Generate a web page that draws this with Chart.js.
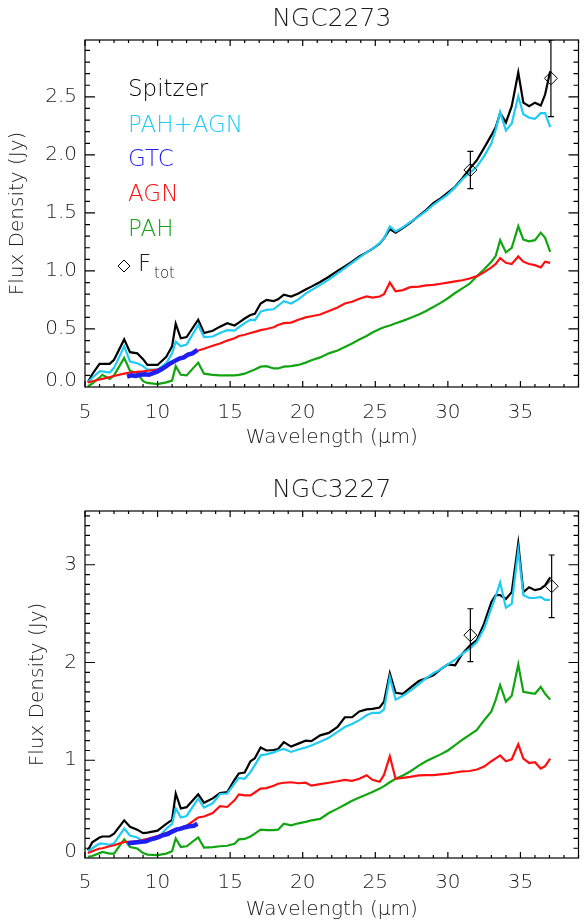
<!DOCTYPE html>
<html lang="en">
<head>
<meta charset="UTF-8">
<title>NGC2273 / NGC3227 - Spitzer spectra decomposition</title>
<script src="https://cdn.jsdelivr.net/npm/chart.js@4.4.0/dist/chart.umd.min.js"></script>
<style>
  html, body { margin: 0; padding: 0; background: #fff; }
  .panel { position: absolute; left: 0; width: 586px; height: 462px; }
</style>
</head>
<body>
<div class="panel" style="top:0"><canvas id="topChart" width="586" height="462"></canvas></div>
<div class="panel" style="top:462px"><canvas id="bottomChart" width="586" height="462"></canvas></div>

<script>
// ---- data ----
const waveGrid = [5.2, 5.5, 6.0, 6.2, 6.7, 7.0, 7.7, 8.1, 8.6, 9.0,
  9.3, 10.0, 10.6, 11.0, 11.25, 11.6, 12.0, 12.8, 13.2, 13.8,
  14.3, 14.8, 15.3, 15.6, 16.0, 16.4, 16.7, 17.1, 17.5, 18.0,
  18.3, 18.7, 19.2, 19.7, 20.2, 20.6, 21.2, 21.8, 22.4, 22.9,
  23.4, 23.9, 24.4, 24.8, 25.3, 25.6, 26.0, 26.4, 26.9, 27.4,
  28.0, 28.5, 29.0, 29.5, 30.0, 30.5, 31.0, 31.5, 32.0, 32.5,
  33.0, 33.3, 33.6, 34.0, 34.4, 34.85, 35.2, 35.6, 36.0, 36.4, 36.7, 37.05];

// NGC2273
const n2273Spitzer = [0.04, 0.11, 0.20, 0.20, 0.20, 0.235, 0.41, 0.30, 0.29, 0.24,
  0.19, 0.19, 0.26, 0.35, 0.545, 0.42, 0.43, 0.58, 0.465, 0.485,
  0.52, 0.55, 0.53, 0.555, 0.59, 0.62, 0.63, 0.72, 0.75, 0.74,
  0.755, 0.795, 0.78, 0.805, 0.84, 0.865, 0.905, 0.95, 1.00, 1.04,
  1.08, 1.125, 1.16, 1.19, 1.235, 1.28, 1.36, 1.33, 1.37, 1.415,
  1.475, 1.525, 1.585, 1.625, 1.675, 1.725, 1.80, 1.88, 1.955, 2.06,
  2.17, 2.24, 2.36, 2.28, 2.42, 2.71, 2.45, 2.42, 2.45, 2.425, 2.52, 2.72];
const n2273PahAgn = [0.04, 0.08, 0.135, 0.135, 0.125, 0.165, 0.35, 0.22, 0.205, 0.18,
  0.15, 0.15, 0.205, 0.29, 0.39, 0.35, 0.365, 0.535, 0.43, 0.435,
  0.465, 0.49, 0.485, 0.515, 0.55, 0.58, 0.575, 0.65, 0.665, 0.67,
  0.70, 0.74, 0.72, 0.755, 0.805, 0.835, 0.88, 0.925, 0.98, 1.025,
  1.07, 1.115, 1.16, 1.19, 1.24, 1.28, 1.385, 1.34, 1.375, 1.42,
  1.47, 1.515, 1.57, 1.615, 1.66, 1.72, 1.79, 1.845, 1.90, 1.99,
  2.10, 2.22, 2.37, 2.21, 2.27, 2.505, 2.35, 2.32, 2.31, 2.36, 2.36, 2.24];
const n2273Agn = [0.04, 0.05, 0.065, 0.07, 0.085, 0.095, 0.115, 0.125, 0.13, 0.135,
  0.14, 0.15, 0.18, 0.21, 0.225, 0.245, 0.27, 0.315, 0.33, 0.355,
  0.375, 0.40, 0.42, 0.44, 0.45, 0.465, 0.475, 0.49, 0.50, 0.515,
  0.535, 0.55, 0.555, 0.58, 0.60, 0.61, 0.625, 0.655, 0.685, 0.72,
  0.735, 0.76, 0.78, 0.77, 0.78, 0.80, 0.90, 0.825, 0.835, 0.86,
  0.865, 0.875, 0.88, 0.89, 0.90, 0.91, 0.92, 0.935, 0.955, 0.99,
  1.03, 1.06, 1.11, 1.07, 1.06, 1.125, 1.08, 1.06, 1.05, 1.03, 1.08, 1.07];
const n2273Pah = [0.005, 0.03, 0.08, 0.105, 0.07, 0.10, 0.25, 0.14, 0.12, 0.05,
  0.035, 0.025, 0.04, 0.055, 0.18, 0.105, 0.10, 0.21, 0.115, 0.105,
  0.10, 0.10, 0.10, 0.105, 0.115, 0.135, 0.15, 0.175, 0.18, 0.16,
  0.16, 0.175, 0.18, 0.19, 0.21, 0.23, 0.255, 0.29, 0.315, 0.345,
  0.375, 0.41, 0.44, 0.47, 0.50, 0.515, 0.53, 0.55, 0.57, 0.595,
  0.625, 0.655, 0.69, 0.725, 0.765, 0.81, 0.85, 0.89, 0.955, 1.015,
  1.08, 1.13, 1.265, 1.16, 1.20, 1.385, 1.27, 1.255, 1.265, 1.33, 1.285, 1.165];
const n2273GtcWave = [7.9, 8.2, 8.5, 8.8, 9.1, 9.4, 9.7, 10.0, 10.3, 10.6, 10.9, 11.2, 11.5, 11.8, 12.1, 12.4, 12.75];
const n2273GtcFlux = [0.09, 0.10, 0.095, 0.105, 0.11, 0.105, 0.12, 0.135, 0.155, 0.18, 0.205, 0.225, 0.245, 0.255, 0.28, 0.29, 0.32];
const n2273FtotWave = [31.55, 37.1];
const n2273Ftot = [1.87, 2.66];
const n2273FtotErr = [0.16, 0.33];

// NGC3227
const n3227Spitzer = [0.08, 0.16, 0.21, 0.22, 0.22, 0.25, 0.385, 0.32, 0.29, 0.255,
  0.26, 0.28, 0.35, 0.39, 0.66, 0.506, 0.52, 0.652, 0.565, 0.61,
  0.665, 0.675, 0.80, 0.865, 0.875, 0.99, 1.02, 1.13, 1.10, 1.105,
  1.115, 1.185, 1.14, 1.17, 1.20, 1.195, 1.255, 1.28, 1.34, 1.44,
  1.44, 1.50, 1.52, 1.525, 1.54, 1.60, 1.89, 1.69, 1.68, 1.74,
  1.81, 1.84, 1.87, 1.93, 1.98, 1.97, 2.09, 2.17, 2.23, 2.40,
  2.62, 2.69, 2.69, 2.65, 2.72, 3.22, 2.72, 2.77, 2.74, 2.755, 2.79, 2.87];
const n3227PahAgn = [0.07, 0.10, 0.148, 0.148, 0.135, 0.15, 0.30, 0.23, 0.21, 0.17,
  0.17, 0.20, 0.30, 0.35, 0.506, 0.414, 0.43, 0.608, 0.516, 0.56,
  0.655, 0.66, 0.76, 0.82, 0.81, 0.88, 0.95, 1.05, 1.06, 1.08,
  1.10, 1.115, 1.085, 1.11, 1.13, 1.15, 1.19, 1.23, 1.29, 1.34,
  1.37, 1.41, 1.46, 1.485, 1.485, 1.52, 1.85, 1.62, 1.66, 1.71,
  1.78, 1.84, 1.89, 1.93, 1.98, 2.03, 2.09, 2.14, 2.21, 2.35,
  2.56, 2.68, 2.82, 2.56, 2.60, 3.15, 2.69, 2.66, 2.66, 2.67, 2.64, 2.64];
const n3227Agn = [0.05, 0.07, 0.097, 0.10, 0.12, 0.13, 0.165, 0.165, 0.17, 0.185,
  0.195, 0.225, 0.255, 0.28, 0.295, 0.31, 0.33, 0.414, 0.425, 0.46,
  0.53, 0.522, 0.59, 0.65, 0.64, 0.64, 0.67, 0.71, 0.715, 0.74,
  0.76, 0.77, 0.775, 0.765, 0.77, 0.74, 0.755, 0.77, 0.785, 0.80,
  0.79, 0.81, 0.847, 0.80, 0.78, 0.85, 1.04, 0.81, 0.82, 0.83,
  0.845, 0.847, 0.847, 0.855, 0.864, 0.875, 0.887, 0.89, 0.905, 0.935,
  0.99, 1.02, 1.05, 0.99, 1.01, 1.163, 1.017, 0.972, 0.98, 0.915, 0.94, 1.017];
const n3227Pah = [0.013, 0.02, 0.05, 0.062, 0.045, 0.045, 0.19, 0.113, 0.097, 0.05,
  0.035, 0.029, 0.045, 0.07, 0.20, 0.113, 0.12, 0.21, 0.107, 0.112,
  0.12, 0.125, 0.145, 0.19, 0.195, 0.22, 0.25, 0.29, 0.285, 0.285,
  0.29, 0.35, 0.335, 0.355, 0.37, 0.385, 0.40, 0.46, 0.505, 0.545,
  0.585, 0.62, 0.65, 0.675, 0.71, 0.735, 0.775, 0.81, 0.845, 0.885,
  0.945, 0.99, 1.025, 1.06, 1.10, 1.155, 1.21, 1.26, 1.31, 1.41,
  1.50, 1.62, 1.77, 1.60, 1.66, 1.98, 1.70, 1.69, 1.68, 1.75, 1.68, 1.62];
const n3227GtcWave = [7.95, 8.3, 8.6, 8.9, 9.2, 9.5, 9.8, 10.1, 10.4, 10.7, 11.0, 11.3, 11.6, 11.9, 12.2, 12.5, 12.75];
const n3227GtcFlux = [0.15, 0.155, 0.16, 0.165, 0.17, 0.19, 0.2, 0.215, 0.235, 0.245, 0.27, 0.29, 0.30, 0.315, 0.325, 0.33, 0.35];
const n3227FtotWave = [31.55, 37.15];
const n3227Ftot = [2.28, 2.78];
const n3227FtotErr = [0.27, 0.32];

// tick labels
const xTickLabels = [5, 10, 15, 20, 25, 30, 35];
const n2273YTicks = [0, 0.5, 1.0, 1.5, 2.0, 2.5];
const n3227YTicks = [0, 1, 2, 3];

// ---- styling ----
const FONT = "'DejaVu Sans', 'Liberation Sans', sans-serif";
const WEIGHT = 200;
const TEXT = '#1a1a1a';
const C_SPITZER = '#000000';
const C_PAHAGN = '#1ecbf5';
const C_GTC = '#1f1ff2';
const C_AGN = '#ff1010';
const C_PAH = '#12a512';

Chart.defaults.font.family = FONT;
Chart.defaults.font.size = 20;
Chart.defaults.font.weight = WEIGHT;
Chart.defaults.color = TEXT;

function xy(xs, ys) {
  return xs.map((x, i) => ({x: x, y: ys[i]}));
}

function lineSet(label, xs, ys, color, width, order) {
  return {
    label: label, data: xy(xs, ys), showLine: true, borderColor: color,
    backgroundColor: color, borderWidth: width, pointRadius: 0, tension: 0, order: order
  };
}

// IDL-style frame: box, inward ticks on all four sides, title, legend
const idlFrame = {
  id: 'idlFrame',
  afterDraw(chart, args, opts) {
    const {ctx, chartArea: a, scales: {x, y}} = chart;
    ctx.save();
    ctx.strokeStyle = '#000';
    ctx.lineWidth = 1.2;
    ctx.strokeRect(a.left, a.top, a.right - a.left, a.bottom - a.top);

    ctx.beginPath();
    for (let v = Math.ceil(x.min); v <= x.max; v += 1) {
      const px = x.getPixelForValue(v);
      const len = v % 5 === 0 ? 6 : 3;
      ctx.moveTo(px, a.bottom); ctx.lineTo(px, a.bottom - len);
      ctx.moveTo(px, a.top); ctx.lineTo(px, a.top + len);
    }
    for (let k = 1; k * 0.1 < y.max - 1e-6; k++) {
      const v = k * 0.1;
      const py = y.getPixelForValue(v);
      const r = v / opts.yMajor;
      const len = Math.abs(r - Math.round(r)) < 1e-6 ? 10 : 5;
      ctx.moveTo(a.left, py); ctx.lineTo(a.left + len, py);
      ctx.moveTo(a.right, py); ctx.lineTo(a.right - len, py);
    }
    ctx.stroke();

    // lowest y label sits a little above its tick
    ctx.fillStyle = TEXT;
    ctx.font = WEIGHT + ' 20px ' + FONT;
    ctx.textAlign = 'right';
    ctx.textBaseline = 'middle';
    ctx.fillText(opts.zeroLabel, a.left - 8, y.getPixelForValue(0) - 6);

    // title
    ctx.font = WEIGHT + ' 25px ' + FONT;
    ctx.textAlign = 'center';
    ctx.fillText(opts.title, (a.left + a.right) / 2, opts.titleY);

    if (opts.legend) {
      ctx.font = WEIGHT + ' 23px ' + FONT;
      ctx.textAlign = 'left';
      opts.legend.forEach(item => {
        ctx.fillStyle = item.color;
        ctx.fillText(item.text, 128, item.y);
      });
      // F_tot entry
      ctx.strokeStyle = '#000';
      ctx.lineWidth = 1;
      ctx.beginPath();
      ctx.moveTo(118, 266); ctx.lineTo(124, 260); ctx.lineTo(130, 266); ctx.lineTo(124, 272); ctx.closePath();
      ctx.stroke();
      ctx.fillStyle = TEXT;
      ctx.fillText('F', 138, 265);
      ctx.font = WEIGHT + ' 15px ' + FONT;
      ctx.fillText('tot', 154, 274);
    }
    ctx.restore();
  }
};

function buildChart(canvasId, p) {
  const datasets = [
    lineSet('Spitzer', waveGrid, p.spitzer, C_SPITZER, 2.2, 9),
    lineSet('PAH+AGN', waveGrid, p.pahAgn, C_PAHAGN, 2.2, 8),
    lineSet('PAH', waveGrid, p.pah, C_PAH, 2.2, 7),
    lineSet('AGN', waveGrid, p.agn, C_AGN, 2.2, 6),
    lineSet('GTC', p.gtcWave, p.gtcFlux, C_GTC, 4.5, 5),
    {
      label: 'Ftot', data: xy(p.ftotWave, p.ftot), showLine: false,
      pointStyle: 'rectRot', pointRadius: 6.5, borderColor: '#000', borderWidth: 1,
      backgroundColor: 'rgba(0,0,0,0)', order: 1
    }
  ];
  p.ftotWave.forEach((w, i) => {
    datasets.push({
      label: 'err' + i,
      data: [{x: w, y: p.ftot[i] - p.ftotErr[i]}, {x: w, y: p.ftot[i] + p.ftotErr[i]}],
      showLine: true, borderColor: '#000', borderWidth: 1.2,
      pointStyle: 'line', pointRadius: 3, pointBorderWidth: 1.2, order: 2
    });
  });

  return new Chart(document.getElementById(canvasId), {
    type: 'scatter',
    data: {datasets: datasets},
    options: {
      responsive: false,
      animation: false,
      events: [],
      layout: {padding: {top: p.padTop, right: 1, left: 0, bottom: 0}},
      plugins: {
        legend: {display: false},
        tooltip: {enabled: false},
        idlFrame: {title: p.title, titleY: p.titleY, yMajor: p.yStep,
                   zeroLabel: p.zeroLabel, legend: p.legend}
      },
      scales: {
        x: {
          type: 'linear', min: 5, max: 39,
          grid: {display: false, drawTicks: false},
          border: {display: false},
          afterFit: s => { s.height = p.xAxisHeight; },
          afterBuildTicks: s => { s.ticks = xTickLabels.map(v => ({value: v})); },
          ticks: {padding: p.xTickPad, maxRotation: 0, color: TEXT, font: {size: 20, weight: WEIGHT}},
          title: {display: true, text: 'Wavelength (\u03bcm)', color: TEXT,
                  font: {size: 20, weight: WEIGHT}, padding: {top: 0, bottom: p.xTitlePad}}
        },
        y: {
          type: 'linear', min: 0, max: p.yMax,
          grid: {display: false, drawTicks: false},
          border: {display: false},
          afterFit: s => { s.width = 85; },
          afterBuildTicks: s => { s.ticks = p.yTicks.map(v => ({value: v})); },
          ticks: {padding: 8, color: TEXT, font: {size: 20, weight: WEIGHT},
                  callback: v => v === 0 ? '' : p.fmt(v)},
          title: {display: true, text: 'Flux Density (Jy)', color: TEXT,
                  font: {size: 20, weight: WEIGHT}, padding: {top: p.yTitlePad, bottom: 0}}
        }
      }
    },
    plugins: [idlFrame]
  });
}

buildChart('topChart', {
  title: 'NGC2273', titleY: 19,
  spitzer: n2273Spitzer, pahAgn: n2273PahAgn, agn: n2273Agn, pah: n2273Pah,
  gtcWave: n2273GtcWave, gtcFlux: n2273GtcFlux,
  ftotWave: n2273FtotWave, ftot: n2273Ftot, ftotErr: n2273FtotErr,
  yMax: 2.99, yStep: 0.5, yTicks: n2273YTicks, zeroLabel: '0.0',
  fmt: v => v.toFixed(1),
  padTop: 40, xAxisHeight: 75, xTickPad: 14, xTitlePad: 12, yTitlePad: 6,
  legend: [
    {text: 'Spitzer', color: C_SPITZER, y: 90},
    {text: 'PAH+AGN', color: C_PAHAGN, y: 126},
    {text: 'GTC', color: C_GTC, y: 160},
    {text: 'AGN', color: C_AGN, y: 195},
    {text: 'PAH', color: C_PAH, y: 230}
  ]
});

buildChart('bottomChart', {
  title: 'NGC3227', titleY: 28,
  spitzer: n3227Spitzer, pahAgn: n3227PahAgn, agn: n3227Agn, pah: n3227Pah,
  gtcWave: n3227GtcWave, gtcFlux: n3227GtcFlux,
  ftotWave: n3227FtotWave, ftot: n3227Ftot, ftotErr: n3227FtotErr,
  yMax: 3.55, yStep: 1, yTicks: n3227YTicks, zeroLabel: '0',
  fmt: v => String(v),
  padTop: 49, xAxisHeight: 66, xTickPad: 13, xTitlePad: 2, yTitlePad: 26,
  legend: null
});
</script>
</body>
</html>
